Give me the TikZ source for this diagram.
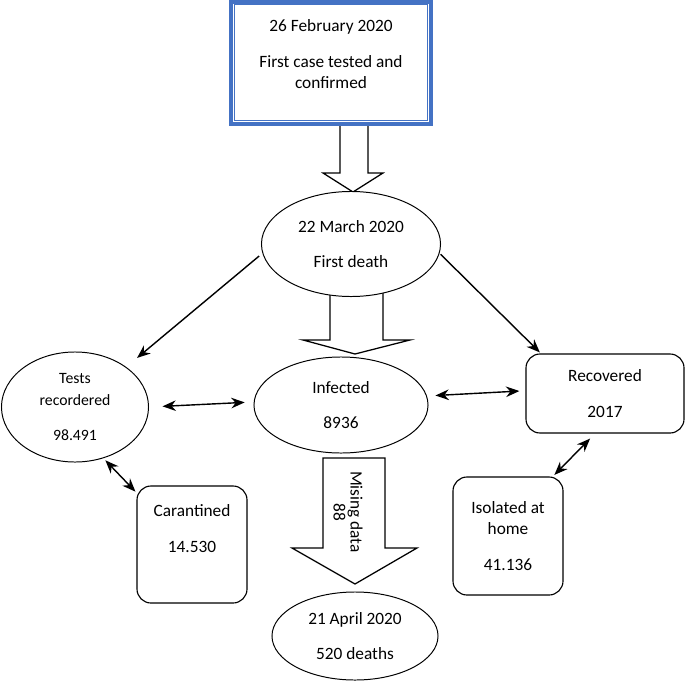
\documentclass[tikz,border=0pt]{standalone}
\usepackage{fontspec}
\setmainfont{Carlito}
\usepackage{tikz}
\usetikzlibrary{arrows,arrows.meta,shapes.geometric}
\definecolor{frameblue}{HTML}{4472C4}

\begin{document}
\begin{tikzpicture}[>={Stealth[length=9.5pt,width=7.5pt]},x=0.025cm,y=-0.025cm,font=\fontsize{12.3}{15}\selectfont]
  \tikzstyle{oval}=[ellipse,draw,fill=white,line width=0.7pt,inner sep=0pt,align=center]
  \tikzstyle{rbox}=[rectangle,rounded corners=10pt,draw,fill=white,line width=0.8pt,align=center]
  \tikzstyle{fat}=[draw,fill=white,line width=0.9pt,line join=miter]
  \tikzstyle{link}=[line width=1pt]
  \useasboundingbox (0,0) rectangle (685,690);

  % block arrows, drawn first so the ovals cover their ends
  \draw[fat] (340,124) -- (340,173) -- (323,173) -- (353,192) -- (383,173) -- (368,173) -- (368,124) -- cycle;
  \draw[fat] (330,290) -- (330,340) -- (303,340) -- (355,354) -- (410,340) -- (383,340) -- (383,290) -- cycle;
  \draw[fat] (323,458) -- (323,548) -- (292,548) -- (355,584) -- (417,548) -- (385,548) -- (385,458) -- cycle;

  \node[draw=frameblue,line width=3.5pt,fill=white,minimum width=5cm,minimum height=3.05cm,inner sep=0pt] (start) at (331,63) {};
  \draw[frameblue,line width=1pt] ([shift={(6,5)}]start.north west) rectangle ([shift={(-6,-6)}]start.south east);
  \node[align=center] (starttext) at ([yshift=6.4pt]start.center) {26 February 2020\\[10.5pt]First case tested and\\confirmed};

  \node[oval,minimum width=4.475cm,minimum height=2.625cm] (march) at (351,244) {22 March 2020\\[10.5pt]First death};
  \node[oval,minimum width=4.35cm,minimum height=2.4cm] (infect) at (341,405) {Infected\\[10.5pt]8936};
  \node[oval,minimum width=4.15cm,minimum height=2.2cm] (april) at (355,636) {21 April 2020\\[10.5pt]520 deaths};
  \node[oval,minimum width=3.675cm,minimum height=2.75cm,font=\fontsize{11.2}{15.5}\selectfont] (tests) at (75,407) {Tests\\recordered\\[9pt]98.491};

  \node[rbox,minimum width=2.75cm,minimum height=2.925cm] (carant) at (192,544.5) {};
  \node[align=center] (carantext) at ([yshift=11.3pt]carant.center) {Carantined\\[10.5pt]14.530};
  \node[rbox,minimum width=3.95cm,minimum height=1.975cm] (recov) at (605,393.5) {Recovered\\[10.5pt]2017};
  \node[rbox,minimum width=2.75cm,minimum height=2.95cm] (isol) at (508,536) {Isolated at\\home\\[10.5pt]41.136};

  \node[rotate=-90,align=center,font=\fontsize{12.3}{12}\selectfont] (mising) at (348,512) {Mising data\\88};

  \draw[link,->,shorten <=3pt,shorten >=10pt] (march.186) -- (tests.38);
  \draw[link,->,shorten <=1pt,shorten >=1pt] (march.354) -- (recov.148);
  \draw[link,<->,shorten <=9.6pt,shorten >=6.4pt] (tests.east) -- (infect.178);
  \draw[link,<->,shorten <=6pt,shorten >=4.3pt] (infect.6) -- (recov.178);
  \draw[link,<->,shorten <=2pt,shorten >=1pt] (tests.-61) -- (carant.137);
  \draw[link,<->,shorten <=5pt,shorten >=1.5pt] (recov.-104) -- (isol.53);
\end{tikzpicture}
\end{document}
